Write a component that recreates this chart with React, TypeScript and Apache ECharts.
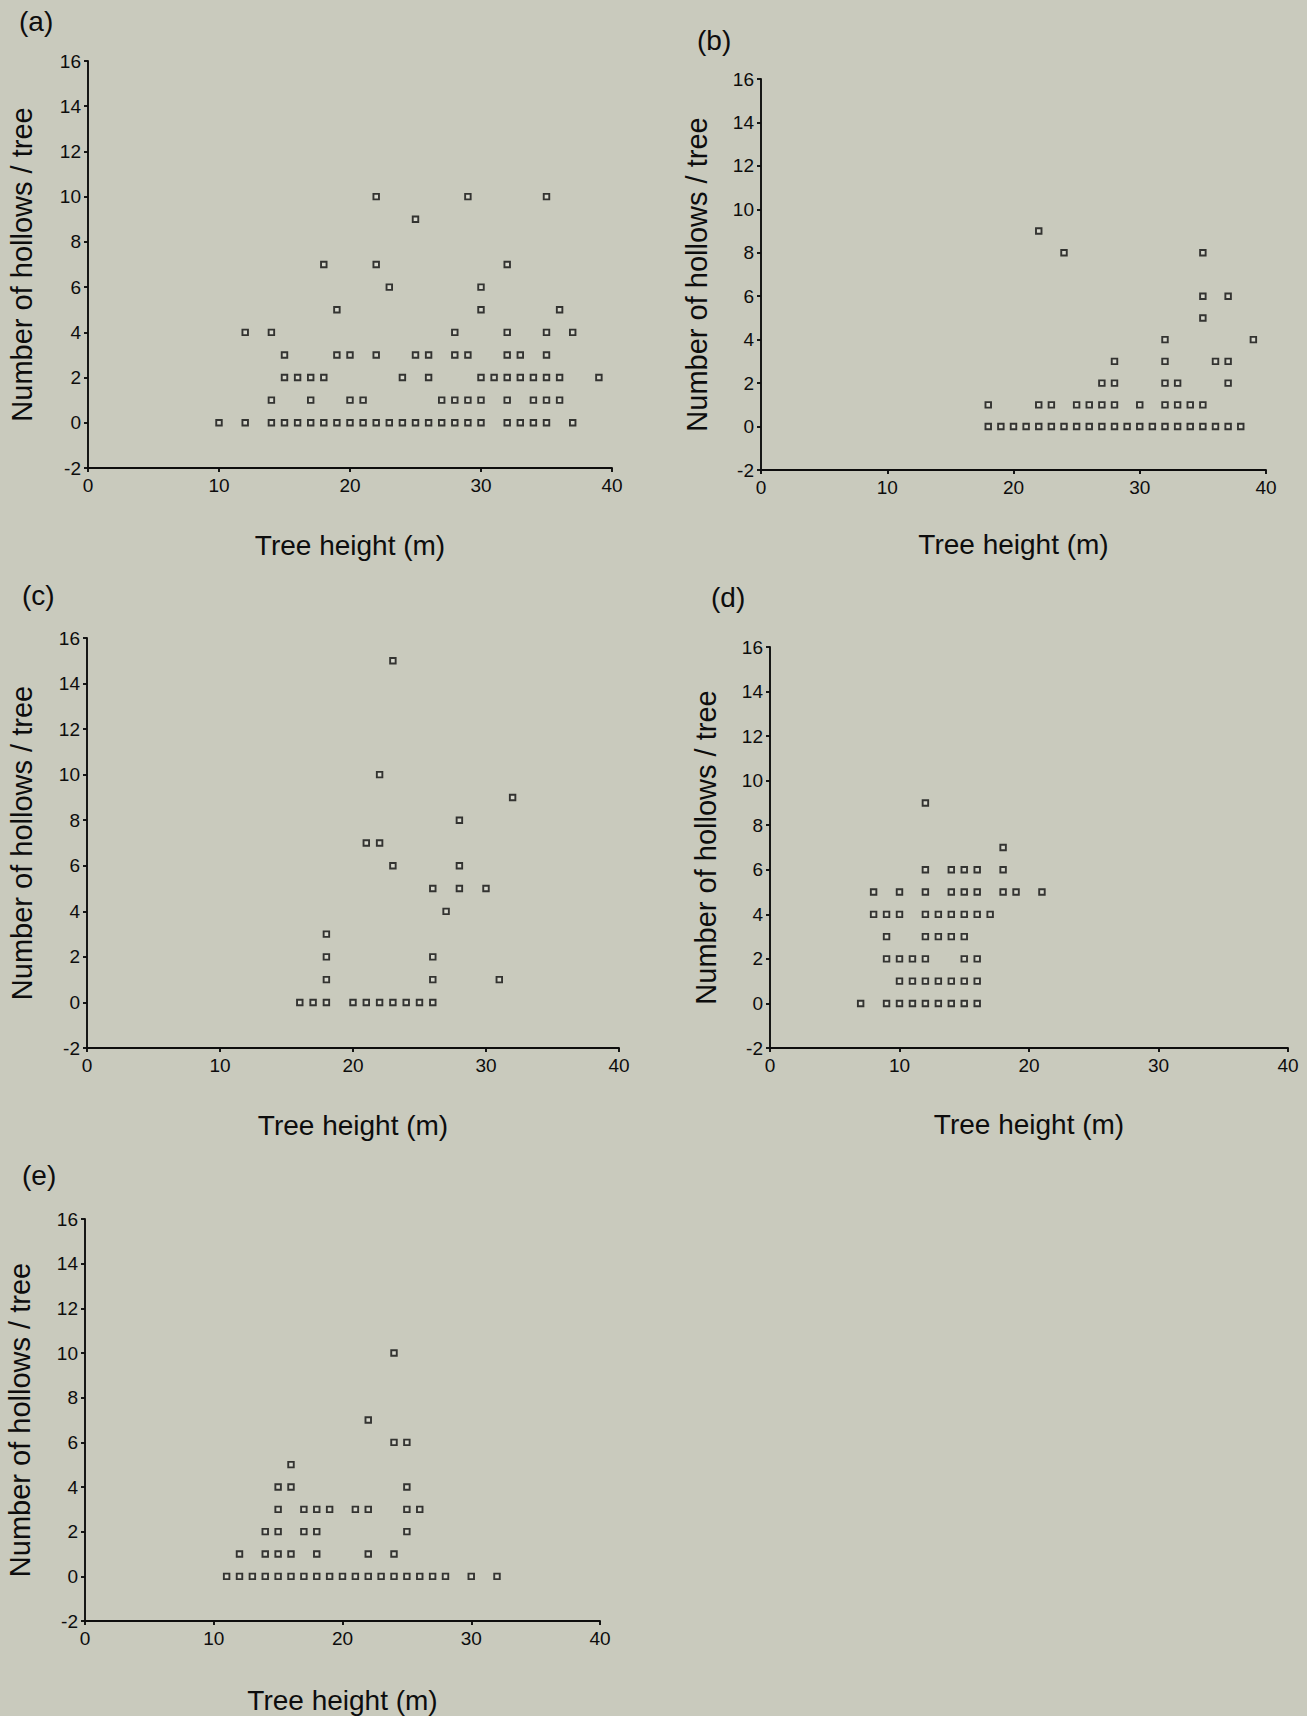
import React, { useEffect, useRef } from "react";
import * as echarts from "echarts";

// Data: each entry is [number of hollows, list of tree heights (m)]
const panelA: [number, number[]][] = [
  [0, [10, 12, 14, 15, 16, 17, 18, 19, 20, 21, 22, 23, 24, 25, 26, 27, 28, 29, 30, 32, 33, 34, 35, 37]],
  [1, [14, 17, 20, 21, 27, 28, 29, 30, 32, 34, 35, 36]],
  [2, [15, 16, 17, 18, 24, 26, 30, 31, 32, 33, 34, 35, 36, 39]],
  [3, [15, 19, 20, 22, 25, 26, 28, 29, 32, 33, 35]],
  [4, [12, 14, 28, 32, 35, 37]],
  [5, [19, 30, 36]],
  [6, [23, 30]],
  [7, [18, 22, 32]],
  [9, [25]],
  [10, [22, 29, 35]],
];

const panelB: [number, number[]][] = [
  [0, [18, 19, 20, 21, 22, 23, 24, 25, 26, 27, 28, 29, 30, 31, 32, 33, 34, 35, 36, 37, 38]],
  [1, [18, 22, 23, 25, 26, 27, 28, 30, 32, 33, 34, 35]],
  [2, [27, 28, 32, 33, 37]],
  [3, [28, 32, 36, 37]],
  [4, [32, 39]],
  [5, [35]],
  [6, [35, 37]],
  [8, [24, 35]],
  [9, [22]],
];

const panelC: [number, number[]][] = [
  [0, [16, 17, 18, 20, 21, 22, 23, 24, 25, 26]],
  [1, [18, 26, 31]],
  [2, [18, 26]],
  [3, [18]],
  [4, [27]],
  [5, [26, 28, 30]],
  [6, [23, 28]],
  [7, [21, 22]],
  [8, [28]],
  [9, [32]],
  [10, [22]],
  [15, [23]],
];

const panelD: [number, number[]][] = [
  [0, [7, 9, 10, 11, 12, 13, 14, 15, 16]],
  [1, [10, 11, 12, 13, 14, 15, 16]],
  [2, [9, 10, 11, 12, 15, 16]],
  [3, [9, 12, 13, 14, 15]],
  [4, [8, 9, 10, 12, 13, 14, 15, 16, 17]],
  [5, [8, 10, 12, 14, 15, 16, 18, 19, 21]],
  [6, [12, 14, 15, 16, 18]],
  [7, [18]],
  [9, [12]],
];

const panelE: [number, number[]][] = [
  [0, [11, 12, 13, 14, 15, 16, 17, 18, 19, 20, 21, 22, 23, 24, 25, 26, 27, 28, 30, 32]],
  [1, [12, 14, 15, 16, 18, 22, 24]],
  [2, [14, 15, 17, 18, 25]],
  [3, [15, 17, 18, 19, 21, 22, 25, 26]],
  [4, [15, 16, 25]],
  [5, [16]],
  [6, [24, 25]],
  [7, [22]],
  [10, [24]],
];

const panelLabels = ["(a)", "(b)", "(c)", "(d)", "(e)"];
const xTitle = "Tree height (m)";
const yTitle = "Number of hollows / tree";
const xMin = 0, xMax = 40, xStep = 10;
const yMin = -2, yMax = 16, yStep = 2;

const FONT = "'Liberation Sans', Arial, Helvetica, sans-serif";
const INK = "#0d0d0d";
const BG = "#c9cabd";

// layout (pixels)
const layout = [
  { grid: { left: 88, top: 61, width: 524, height: 407 }, label: { left: 19, top: 7 }, xGap: 63, yGap: 52 },
  { grid: { left: 761, top: 79, width: 505, height: 391 }, label: { left: 697, top: 26 }, xGap: 60, yGap: 50 },
  { grid: { left: 87, top: 638, width: 532, height: 410 }, label: { left: 22, top: 581 }, xGap: 63, yGap: 51 },
  { grid: { left: 770, top: 647, width: 518, height: 401 }, label: { left: 711, top: 583 }, xGap: 62, yGap: 50 },
  { grid: { left: 85, top: 1219, width: 515, height: 402 }, label: { left: 22, top: 1161 }, xGap: 65, yGap: 51 },
];

function toPoints(rows: [number, number[]][]): [number, number][] {
  const pts: [number, number][] = [];
  rows.forEach(([h, xs]) => xs.forEach((x) => pts.push([x, h])));
  return pts;
}

export default function App() {
  const ref = useRef<HTMLDivElement>(null);
  useEffect(() => {
    document.body.style.margin = "0";
    document.body.style.background = BG;
    if (!ref.current) return;
    const chart = echarts.init(ref.current, undefined, { renderer: "svg" });
    const panels = [panelA, panelB, panelC, panelD, panelE];
    const lineStyle = { color: INK, width: 1.9 };
    const option: any = {
      animation: false,
      backgroundColor: BG,
      grid: layout.map((l) => ({ ...l.grid, containLabel: false })),
      xAxis: layout.map((l, i) => ({
        gridIndex: i,
        type: "value",
        min: xMin,
        max: xMax,
        interval: xStep,
        axisLine: { show: true, onZero: false, lineStyle },
        axisTick: { show: true, length: 4, lineStyle },
        axisLabel: { fontSize: 19, color: INK, margin: 8, fontFamily: FONT },
        splitLine: { show: false },
        name: xTitle,
        nameLocation: "middle",
        nameGap: l.xGap,
        nameTextStyle: { fontSize: 28, color: INK, fontFamily: FONT },
      })),
      yAxis: layout.map((l, i) => ({
        gridIndex: i,
        type: "value",
        min: yMin,
        max: yMax,
        interval: yStep,
        axisLine: { show: true, onZero: false, lineStyle },
        axisTick: { show: true, length: 4, lineStyle },
        axisLabel: { fontSize: 19, color: INK, margin: 7, fontFamily: FONT },
        splitLine: { show: false },
        name: yTitle,
        nameLocation: "middle",
        nameGap: l.yGap,
        nameRotate: 90,
        nameTextStyle: { fontSize: 29, color: INK, fontFamily: FONT },
      })),
      series: panels.map((p, i) => ({
        type: "scatter",
        xAxisIndex: i,
        yAxisIndex: i,
        data: toPoints(p),
        symbol: "rect",
        symbolSize: 5.5,
        itemStyle: { color: "#dcdcd2", borderColor: INK, borderWidth: 1.9 },
      })),
      graphic: layout.map((l, i) => ({
        type: "text",
        left: l.label.left,
        top: l.label.top,
        style: { text: panelLabels[i], fontSize: 28, fill: INK, fontFamily: FONT },
      })),
    };
    chart.setOption(option);
    return () => chart.dispose();
  }, []);
  return <div ref={ref} style={{ width: 1307, height: 1716, background: BG }} />;
}
